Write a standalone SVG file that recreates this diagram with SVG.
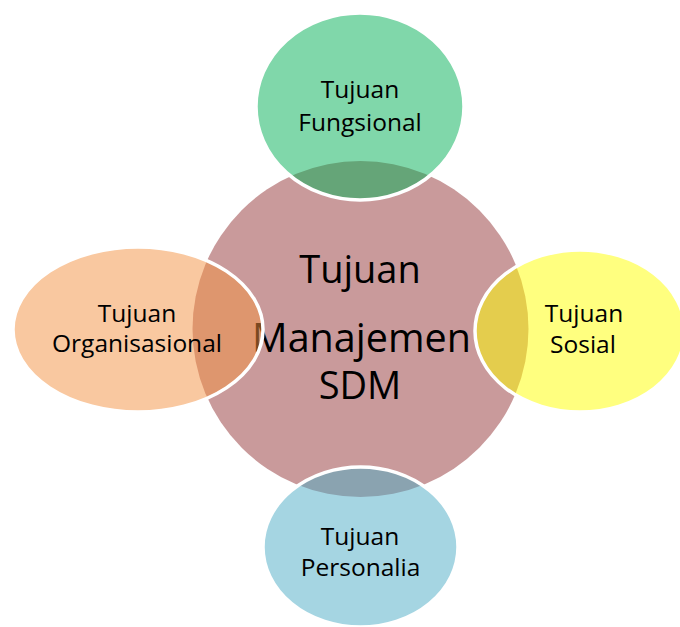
<svg xmlns="http://www.w3.org/2000/svg" width="680" height="627" viewBox="0 0 680 627">
  <style>
    .sat { stroke: #ffffff; stroke-width: 3.5; fill-opacity: 0.5; }
    .lbl { font-family: "Open Sans", "Noto Sans", "Liberation Sans", sans-serif; font-size: 24.5px; fill: #000000; text-anchor: middle; }
    .core { font-family: "Open Sans", "Noto Sans", "Liberation Sans", sans-serif; font-size: 38px; fill: #000000; text-anchor: middle; }
  </style>
  <rect width="680" height="627" fill="#ffffff"/>

  <!-- central goal -->
  <g id="node-center">
    <circle cx="360.5" cy="329" r="168" fill="#c99a9b"/>
    <text class="core" x="360" y="283">Tujuan</text>
    <text class="core" x="361.5" y="352" style="font-size:39.5px">Manajemen</text>
    <text class="core" x="360" y="399">SDM</text>
  </g>

  <!-- surrounding goals, semi-transparent so the overlap darkens -->
  <g id="node-fungsional">
    <ellipse class="sat" cx="360" cy="106.5" rx="104" ry="93.5" fill="#01af55"/>
    <text class="lbl" x="360" y="98">Tujuan</text>
    <text class="lbl" x="360" y="131">Fungsional</text>
  </g>

  <g id="node-sosial">
    <ellipse class="sat" cx="580" cy="331" rx="105" ry="81" fill="#ffff00"/>
    <text class="lbl" x="584" y="322">Tujuan</text>
    <text class="lbl" x="583" y="353">Sosial</text>
  </g>

  <g id="node-organisasional">
    <ellipse class="sat" cx="138" cy="329.5" rx="125" ry="82.5" fill="#f39141"/>
    <text class="lbl" x="137" y="322">Tujuan</text>
    <text class="lbl" x="137" y="352">Organisasional</text>
  </g>

  <g id="node-personalia">
    <ellipse class="sat" cx="360.5" cy="547" rx="97.5" ry="80" fill="#4babc5"/>
    <text class="lbl" x="360" y="545">Tujuan</text>
    <text class="lbl" x="360.5" y="576">Personalia</text>
  </g>

  <g id="connectors"/>
</svg>
